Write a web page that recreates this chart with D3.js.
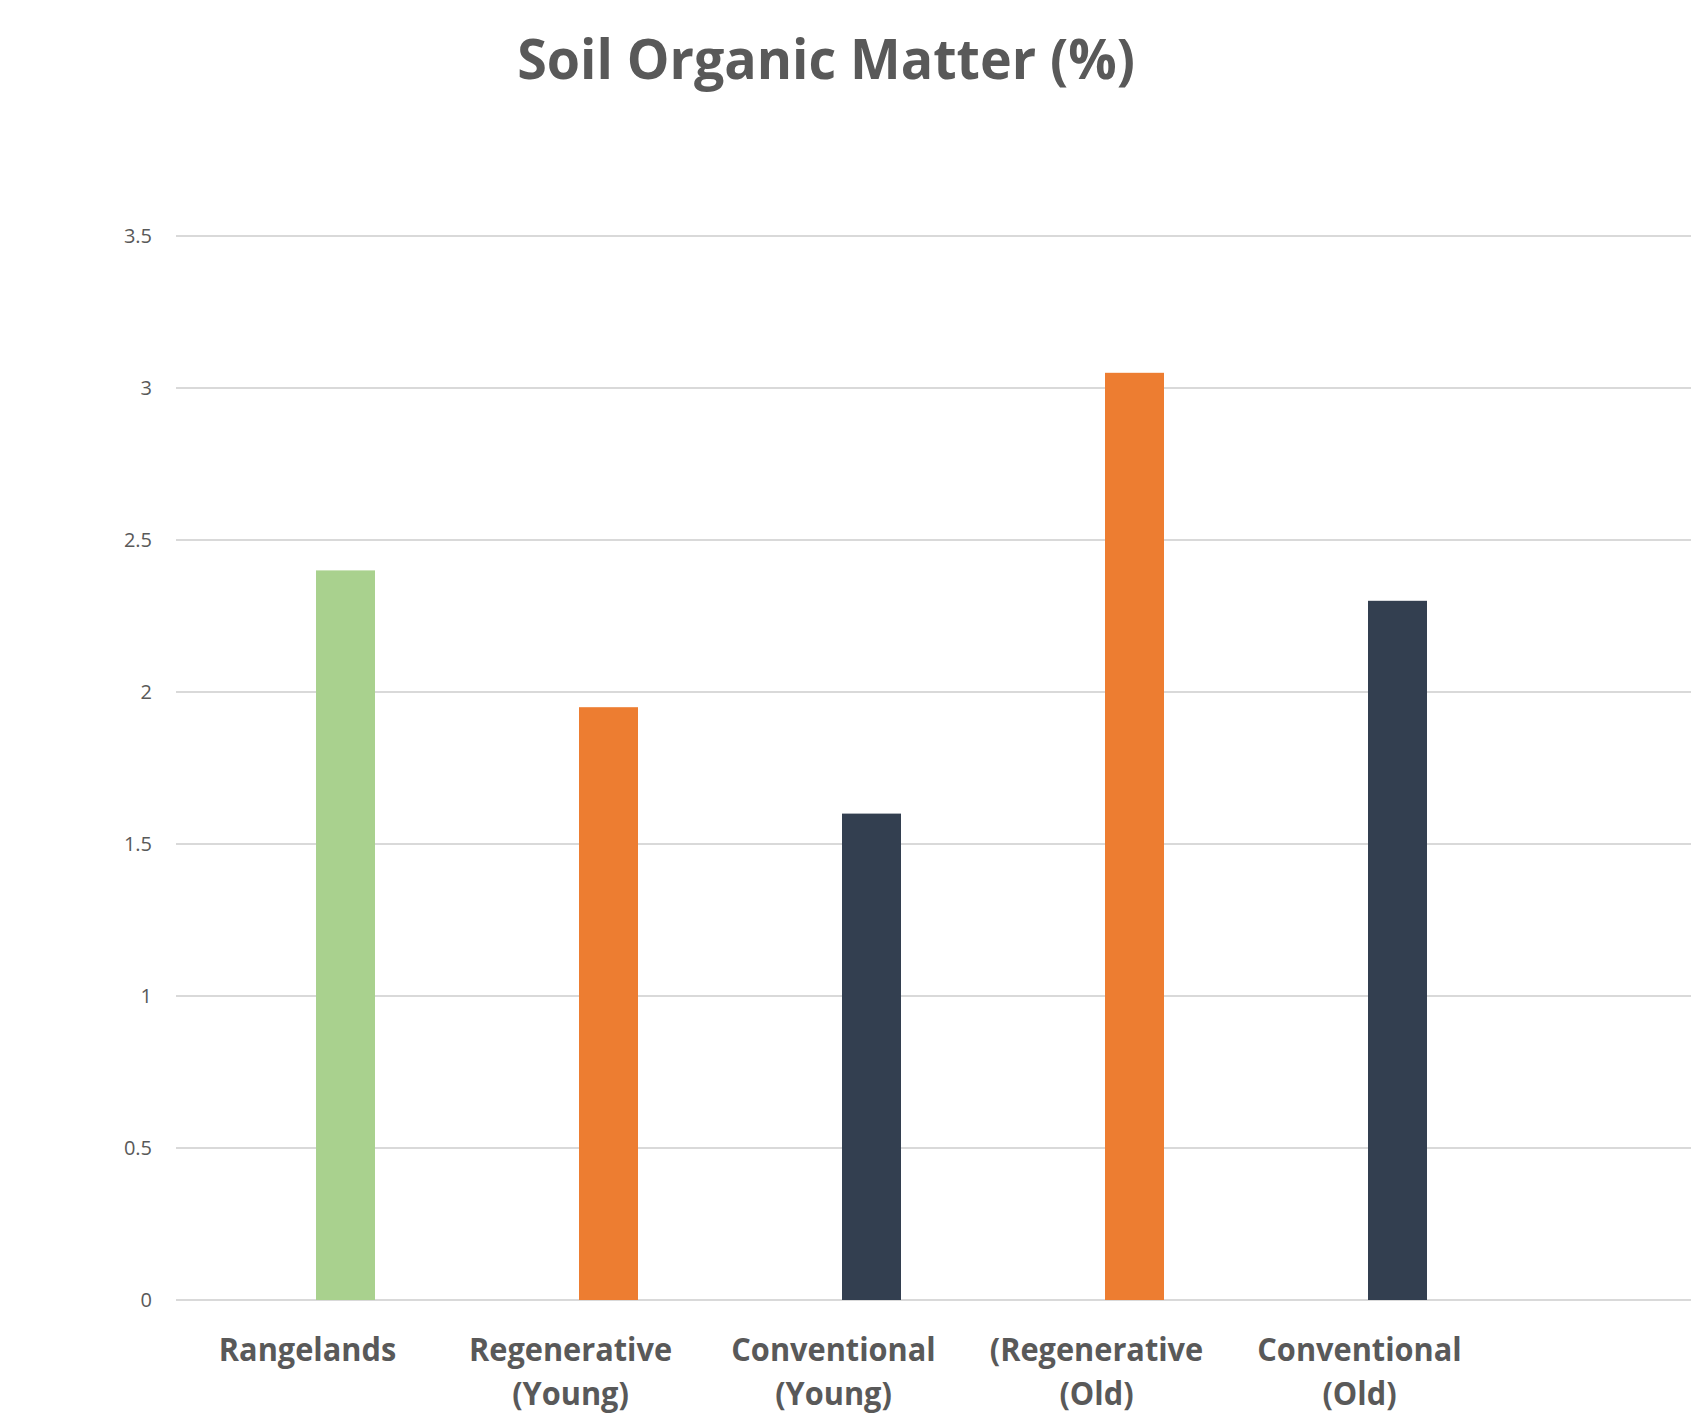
<!DOCTYPE html>
<meta charset="utf-8">
<style>
	body { margin: 0; background: #fff; }
	text { font-family: "Open Sans", "Noto Sans", sans-serif; fill: #595959; }
</style>
<svg id="chart" width="1691" height="1428"></svg>
<script src="https://d3js.org/d3.v7.min.js"></script>
<script>

var title = "Soil Organic Matter (%)";

var categories = ["Rangelands", "Regenerative (Young)", "Conventional (Young)", "(Regenerative (Old)", "Conventional (Old)"];
var labelLines = [["Rangelands"], ["Regenerative", "(Young)"], ["Conventional", "(Young)"], ["(Regenerative", "(Old)"], ["Conventional", "(Old)"]];
var values = [2.4, 1.95, 1.6, 3.05, 2.3];
var colors = ["#a9d18e", "#ed7d31", "#333f50", "#ed7d31", "#333f50"];
var yTicks = [0, 0.5, 1, 1.5, 2, 2.5, 3, 3.5];

var svg = d3.select("svg#chart"),
	width = +svg.attr("width"),
	height = +svg.attr("height");

var plotLeft = 176,
	plotRight = 1691,
	catWidth = 263,
	barWidth = 59,
	barShift = 38,   // bars sit right of the category centre
	squeeze = 0.96;  // Calibri is a touch narrower than Open Sans

var x = d3.scaleBand()
	.domain(categories)
	.range([plotLeft, plotLeft + catWidth * categories.length]);

var y = d3.scaleLinear()
	.domain([0, 3.5])
	.range([1300, 236]);

// gridlines
svg.append("g")
	.selectAll("line")
	.data(yTicks)
	.enter().append("line")
		.attr("x1", plotLeft)
		.attr("x2", plotRight)
		.attr("y1", function(d) { return y(d); })
		.attr("y2", function(d) { return y(d); })
		.attr("stroke", "#d9d9d9")
		.attr("stroke-width", 2);

// y tick labels
svg.append("g")
	.selectAll("text")
	.data(yTicks)
	.enter().append("text")
		.attr("x", 152)
		.attr("y", function(d) { return y(d); })
		.attr("dy", "0.35em")
		.attr("text-anchor", "end")
		.style("font-size", "20px")
		.text(function(d) { return d; });

// bars
svg.append("g")
	.selectAll("rect")
	.data(values)
	.enter().append("rect")
		.attr("x", function(d, i) { return x(categories[i]) + x.bandwidth() / 2 + barShift - barWidth / 2; })
		.attr("y", function(d) { return y(d); })
		.attr("width", barWidth)
		.attr("height", function(d) { return y(0) - y(d); })
		.attr("fill", function(d, i) { return colors[i]; });

// category labels
var labels = svg.append("g")
	.selectAll("g")
	.data(categories)
	.enter().append("g")
		.attr("transform", function(d) {
			return "translate(" + (x(d) + x.bandwidth() / 2) + ",1361) scale(" + squeeze + ",1)";
		});

labels.each(function(d, i) {
	var g = d3.select(this);
	labelLines[i].forEach(function(line, j) {
		g.append("text")
			.attr("x", 0)
			.attr("y", j * 44)
			.attr("text-anchor", "middle")
			.style("font-size", "32px")
			.style("font-weight", "bold")
			.text(line);
	});
});

// title
svg.append("g")
	.attr("transform", "translate(826,79) scale(" + squeeze + ",1)")
	.append("text")
		.attr("text-anchor", "middle")
		.style("font-size", "56px")
		.style("font-weight", "bold")
		.text(title);

</script>
